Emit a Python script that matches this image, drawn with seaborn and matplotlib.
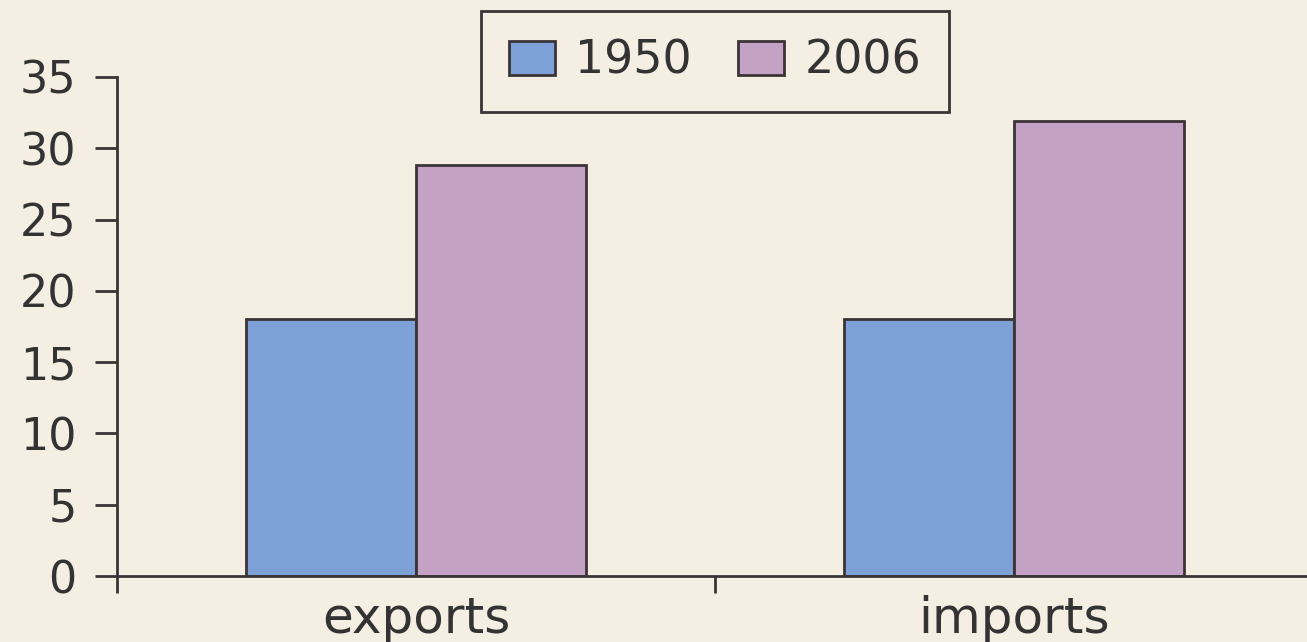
import matplotlib
matplotlib.use("Agg")
import matplotlib.pyplot as plt
import seaborn as sns
import pandas as pd

categories = ["exports", "imports"]
years = ["1950", "2006"]
values_1950 = [18, 18]
values_2006 = [28.8, 31.9]
y_ticks = [0, 5, 10, 15, 20, 25, 30, 35]

df = pd.DataFrame({
    "category": categories * 2,
    "year": [years[0]] * len(categories) + [years[1]] * len(categories),
    "value": values_1950 + values_2006,
})

bg = "#f5eee2"
dark = "#3a3436"
text_c = "#333333"

sns.set_theme(style="ticks")
plt.rcParams['font.family'] = ['DejaVu Sans']

fig = plt.figure(figsize=(13.07, 6.42), dpi=100, facecolor=bg)
ax = fig.add_axes([117 / 1307, 1 - 576 / 642, 1 - 117 / 1307, (576 - 77) / 642])
ax.set_facecolor(bg)

sns.barplot(data=df, x="category", y="value", hue="year", order=categories,
            hue_order=years, palette={"1950": "#7da0d6", "2006": "#c4a2c6"},
            saturation=1, width=0.57, edgecolor=dark, linewidth=2, ax=ax)

ax.set_xlim(-0.5, 1.49)
ax.set_ylim(0, 35)
ax.set_yticks(y_ticks)
ax.set_yticklabels([str(t) for t in y_ticks])
ax.set_xticks([0, 1])
ax.set_xticklabels(categories)
ax.set_xticks([-0.5, 0.5], minor=True)
ax.set_xlabel("")
ax.set_ylabel("")

for s in ["top", "right"]:
    ax.spines[s].set_visible(False)
for s in ["left", "bottom"]:
    ax.spines[s].set_color(dark)
    ax.spines[s].set_linewidth(2)

ax.tick_params(axis="x", which="major", length=0, labelsize=36, pad=14, labelcolor=text_c)
ax.tick_params(axis="x", which="minor", length=12, width=2, color=dark, direction="out")
ax.tick_params(axis="y", which="major", length=16, width=2, color=dark, labelsize=32,
               pad=13, labelcolor=text_c)

handles, labels = ax.get_legend_handles_labels()
ax.get_legend().remove()
leg = fig.legend(handles, labels, loc="center", bbox_to_anchor=(715 / 1307, 1 - 61.5 / 642),
                 ncol=2, fontsize=33, frameon=True, fancybox=False, framealpha=1,
                 facecolor=bg, edgecolor=dark, handlelength=1.0, handleheight=0.75,
                 handletextpad=0.45, columnspacing=1.0, borderpad=0.62, labelcolor=text_c)
leg.get_frame().set_linewidth(2)

fig.savefig("out.png", dpi=100, facecolor=bg)
